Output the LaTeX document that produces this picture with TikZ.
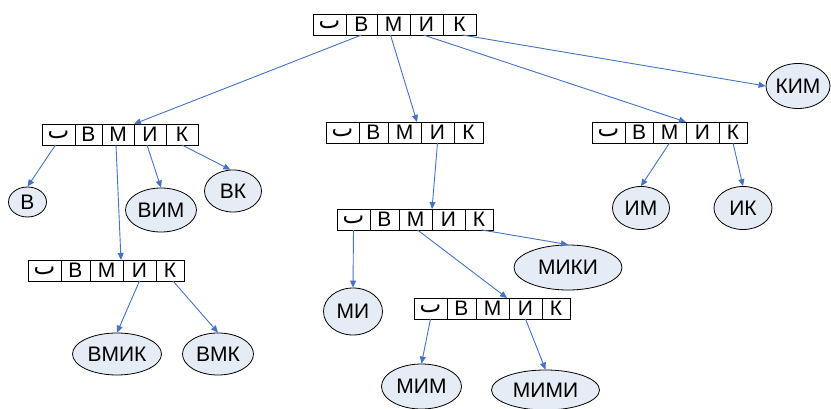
\documentclass[tikz,border=0pt]{standalone}
\usepackage{fontspec}
\setmainfont{Liberation Sans}
\newfontfamily\arabicfont[Script=Arabic]{DejaVu Sans}
\usetikzlibrary{arrows.meta,shapes.geometric}
\definecolor{edgeblue}{RGB}{68,114,196}
\definecolor{leaffill}{RGB}{230,236,246}
\tikzset{
  cellbox/.style={draw=black, line width=0.8pt, minimum height=21pt, inner sep=0pt, outer sep=0pt,
    anchor=north west, font=\fontsize{21}{21}\selectfont},
  leaf/.style={ellipse, draw=black, line width=0.8pt, fill=leaffill, inner sep=0pt,
    font=\fontsize{21}{21}\selectfont},
  link/.style={draw=edgeblue, line width=0.9pt, -{Triangle[length=7pt,width=6pt]}},
}
\newcommand\cellrow[8]{%
  \node[cellbox, minimum width=#4pt] (#1-0) at (#2,#3) {\arabicfont\fontsize{23}{23}\selectfont ٮ};
  \node[cellbox, minimum width=#5pt] (#1-1) at (#1-0.north east) {В};
  \node[cellbox, minimum width=#6pt] (#1-2) at (#1-1.north east) {М};
  \node[cellbox, minimum width=#7pt] (#1-3) at (#1-2.north east) {И};
  \node[cellbox, minimum width=#8pt] (#1-4) at (#1-3.north east) {К};
}
\begin{document}
\begin{tikzpicture}[x=1pt,y=-1pt]
\useasboundingbox (0,0) rectangle (831,409);
% arrays
\cellrow{t}{313}{14}{33}{31}{33}{33}{33}
\cellrow{l}{42}{124}{33}{27}{32}{32}{32}
\cellrow{m}{326}{122}{33}{29}{33}{33}{29}
\cellrow{r}{592}{122}{33}{28}{33}{33}{28}
\cellrow{lb}{28}{260}{33}{29}{33}{33}{28}
\cellrow{mb}{337}{209}{33}{29}{33}{33}{28}
\cellrow{mc}{414}{298}{33}{29}{33}{33}{28}
% leaves
\node[leaf, minimum width=38pt, minimum height=30pt] (v) at (27.5,202) {В};
\node[leaf, minimum width=71pt, minimum height=44pt] (vim) at (161,210) {ВИМ};
\node[leaf, minimum width=57pt, minimum height=42pt] (vk) at (233,191) {ВК};
\node[leaf, minimum width=89pt, minimum height=42pt] (vmik) at (117,354) {ВМИК};
\node[leaf, minimum width=71pt, minimum height=42pt] (vmk) at (218,354) {ВМК};
\node[leaf, minimum width=64pt, minimum height=45pt] (kim) at (798,86) {КИМ};
\node[leaf, minimum width=57pt, minimum height=43pt] (im) at (641,208) {ИМ};
\node[leaf, minimum width=58pt, minimum height=43pt] (ik) at (743,208) {ИК};
\node[leaf, minimum width=108pt, minimum height=45pt] (miki) at (568,267.5) {МИКИ};
\node[leaf, minimum width=59pt, minimum height=47pt] (mi) at (353,311.5) {МИ};
\node[leaf, minimum width=80pt, minimum height=45pt] (mim) at (421.5,386.5) {МИМ};
\node[leaf, minimum width=108pt, minimum height=40pt] (mimi) at (545.5,390) {МИМИ};
% links
\draw[link] (t-1.south) -- (l-3.north west);
\draw[link] ([xshift=-3pt]t-2.south) -- ([xshift=-4pt]m-3.north west);
\draw[link] ([xshift=-3pt]t-3.south) -- (r-3.north west);
\draw[link] ([xshift=3pt]t-4.south) -- (kim.west);
\draw[link] ([xshift=-3pt]l-0.south) -- (v.north);
\draw[link] ([xshift=-2pt]l-2.south) -- ([xshift=-2pt]lb-3.north west);
\draw[link] ([xshift=-3pt]l-3.south) -- (vim.north);
\draw[link] (l-4.south) -- (vk.97);
\draw[link] (m-3.south) -- (mb-3.north west);
\draw[link] (mb-0.south) -- (mi.north);
\draw[link] ([xshift=2pt]mb-2.south) -- ([xshift=-2pt]mc-3.north west);
\draw[link] ([xshift=3pt]mb-4.south) -- (miki.north);
\draw[link] (mc-0.south) -- (mim.north);
\draw[link] (mc-3.south) -- (mimi.north);
\draw[link] (r-2.south) -- (im.north);
\draw[link] (r-4.south) -- (ik.north);
\draw[link] (lb-3.south) -- (vmik.north);
\draw[link] ([xshift=3pt]lb-4.south) -- (vmk.north);
\end{tikzpicture}
\end{document}
